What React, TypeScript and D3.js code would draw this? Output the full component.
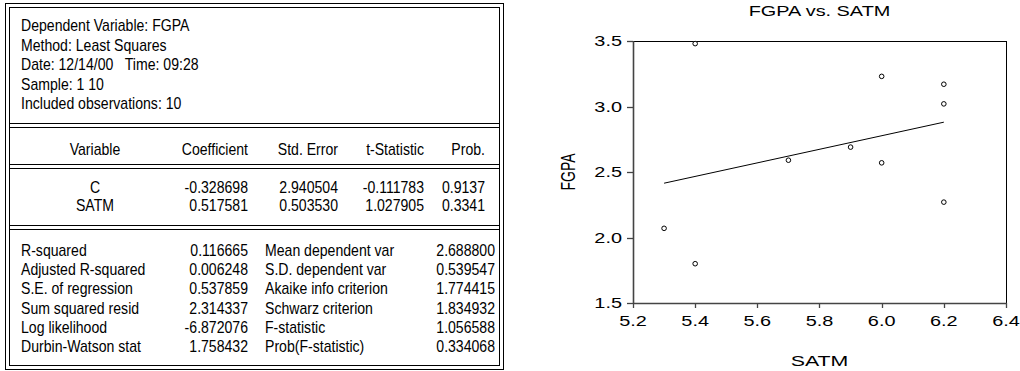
import React, { useEffect, useRef } from 'react';
import * as d3 from 'd3';

// Regression output
const headerLines = [
  'Dependent Variable: FGPA',
  'Method: Least Squares',
  'Date: 12/14/00   Time: 09:28',
  'Sample: 1 10',
  'Included observations: 10',
];
const columnHeaders = ['Variable', 'Coefficient', 'Std. Error', 't-Statistic', 'Prob.'];
const variables = ['C', 'SATM'];
const coefficients = [-0.328698, 0.517581];
const stdErrors = [2.940504, 0.50353];
const tStatistics = [-0.111783, 1.027905];
const probabilities = [0.9137, 0.3341];
const leftStatLabels = [
  'R-squared',
  'Adjusted R-squared',
  'S.E. of regression',
  'Sum squared resid',
  'Log likelihood',
  'Durbin-Watson stat',
];
const leftStatValues = [0.116665, 0.006248, 0.537859, 2.314337, -6.872076, 1.758432];
const rightStatLabels = [
  'Mean dependent var',
  'S.D. dependent var',
  'Akaike info criterion',
  'Schwarz criterion',
  'F-statistic',
  'Prob(F-statistic)',
];
const rightStatValues = [2.6888, 0.539547, 1.774415, 1.834932, 1.056588, 0.334068];

// Scatter data
const satm = [5.3, 5.4, 5.4, 5.7, 5.9, 6.0, 6.0, 6.2, 6.2, 6.2];
const fgpa = [2.07, 3.48, 1.8, 2.59, 2.69, 3.23, 2.57, 3.17, 3.02, 2.27];
const xTicks = [5.2, 5.4, 5.6, 5.8, 6.0, 6.2, 6.4];
const yTicks = [1.5, 2.0, 2.5, 3.0, 3.5];

const FONT = '"Liberation Sans", Arial, Helvetica, sans-serif';

const App = () => {
  const svgRef = useRef<SVGSVGElement>(null);

  useEffect(() => {
    const width = 1020;
    const height = 371;
    const svg = d3.select(svgRef.current).attr('width', width).attr('height', height);
    svg.selectAll('*').remove();

    const txt = (parent: any, x: number, y: number, s: string, anchor: string, size: number, sx: number) =>
      parent
        .append('text')
        .attr('transform', `translate(${x},${y}) scale(${sx},1)`)
        .attr('text-anchor', anchor)
        .attr('font-size', size)
        .attr('font-family', FONT)
        .attr('fill', '#000')
        .style('white-space', 'pre')
        .text(s);

    // ---------- table ----------
    const t = svg.append('g');
    const tSize = 16;
    const tSx = 0.88;
    const box = { l: 5, r: 503, t: 3, b: 369 };
    const gap = 4;
    const line = (x1: number, y1: number, x2: number, y2: number) =>
      t.append('line').attr('x1', x1).attr('y1', y1).attr('x2', x2).attr('y2', y2)
        .attr('stroke', '#000').attr('stroke-width', 1).attr('shape-rendering', 'crispEdges');

    t.append('rect').attr('x', box.l + 0.5).attr('y', box.t + 0.5)
      .attr('width', box.r - box.l).attr('height', box.b - box.t)
      .attr('fill', 'none').attr('stroke', '#000');
    t.append('rect').attr('x', box.l + gap + 0.5).attr('y', box.t + gap + 0.5)
      .attr('width', box.r - box.l - 2 * gap).attr('height', box.b - box.t - 2 * gap)
      .attr('fill', 'none').attr('stroke', '#000');
    [123, 164, 225].forEach((y) => {
      line(box.l + gap, y + 0.5, box.r - gap, y + 0.5);
      line(box.l + gap, y + gap + 0.5, box.r - gap, y + gap + 0.5);
    });

    headerLines.forEach((s, i) => txt(t, 21, 31 + i * 19.5, s, 'start', tSize, tSx));

    const colRight = [0, 248, 338, 424, 485];
    const varCenter = 95;
    columnHeaders.forEach((s, i) => {
      if (i === 0) txt(t, varCenter, 155, s, 'middle', tSize, tSx);
      else txt(t, colRight[i], 155, s, 'end', tSize, tSx);
    });
    variables.forEach((v, i) => {
      const y = 193 + i * 17.5;
      txt(t, varCenter, y, v, 'middle', tSize, tSx);
      txt(t, colRight[1], y, coefficients[i].toFixed(6), 'end', tSize, tSx);
      txt(t, colRight[2], y, stdErrors[i].toFixed(6), 'end', tSize, tSx);
      txt(t, colRight[3], y, tStatistics[i].toFixed(6), 'end', tSize, tSx);
      txt(t, colRight[4], y, probabilities[i].toFixed(4), 'end', tSize, tSx);
    });
    leftStatLabels.forEach((s, i) => {
      const y = 255.7 + i * 19.3;
      txt(t, 21, y, s, 'start', tSize, tSx);
      txt(t, 248, y, leftStatValues[i].toFixed(6), 'end', tSize, tSx);
      txt(t, 265, y, rightStatLabels[i], 'start', tSize, tSx);
      txt(t, 495, y, rightStatValues[i].toFixed(6), 'end', tSize, tSx);
    });

    // ---------- scatter ----------
    const plot = { l: 633, r: 1006, t: 41, b: 303 };
    const cSize = 14;
    const cSx = 1.42;
    const x = d3.scaleLinear().domain([5.2, 6.4]).range([plot.l, plot.r]);
    const y = d3.scaleLinear().domain([1.5, 3.5]).range([plot.b, plot.t]);
    const g = svg.append('g');

    g.append('rect').attr('x', plot.l + 0.5).attr('y', plot.t + 0.5)
      .attr('width', plot.r - plot.l).attr('height', plot.b - plot.t)
      .attr('fill', 'none').attr('stroke', '#000').attr('stroke-width', 1);
    g.append('line').attr('x1', plot.l + 0.5).attr('x2', plot.l + 0.5).attr('y1', plot.t).attr('y2', plot.b + 1)
      .attr('stroke', '#444').attr('stroke-width', 1.6);
    g.append('line').attr('x1', plot.l).attr('x2', plot.r + 1).attr('y1', plot.b + 0.5).attr('y2', plot.b + 0.5)
      .attr('stroke', '#444').attr('stroke-width', 1.6);

    xTicks.forEach((v) => {
      const px = Math.round(x(v)) + 0.5;
      g.append('line').attr('x1', px).attr('x2', px).attr('y1', plot.b).attr('y2', plot.b + 5)
        .attr('stroke', '#444').attr('stroke-width', 1.3);
      txt(g, x(v), 326, v.toFixed(1), 'middle', cSize, cSx);
    });
    yTicks.forEach((v) => {
      const py = Math.round(y(v)) + 0.5;
      g.append('line').attr('x1', plot.l - 6).attr('x2', plot.l).attr('y1', py).attr('y2', py)
        .attr('stroke', '#444').attr('stroke-width', 1.3);
      txt(g, 622, y(v) + 5, v.toFixed(1), 'end', cSize, cSx);
    });

    // fitted line over observed SATM range
    const [xMin, xMax] = d3.extent(satm) as [number, number];
    const fit = (v: number) => coefficients[0] + coefficients[1] * v;
    g.append('path')
      .datum([xMin, xMax])
      .attr('d', d3.line<number>().x((d) => x(d)).y((d) => y(fit(d))))
      .attr('fill', 'none')
      .attr('stroke', '#000')
      .attr('stroke-width', 1);

    g.selectAll('circle.pt')
      .data(satm.map((s, i) => ({ s, f: fgpa[i] })))
      .join('circle')
      .attr('class', 'pt')
      .attr('cx', (d) => x(d.s))
      .attr('cy', (d) => y(d.f))
      .attr('r', 2.3)
      .attr('fill', '#fff')
      .attr('stroke', '#000')
      .attr('stroke-width', 1);

    txt(g, (plot.l + plot.r) / 2, 16, 'FGPA vs. SATM', 'middle', cSize, cSx);
    txt(g, (plot.l + plot.r) / 2, 366, 'SATM', 'middle', cSize + 1, cSx);
    g.append('text')
      .attr('transform', `translate(575,${(plot.t + plot.b) / 2}) rotate(-90) scale(1,${cSx})`)
      .attr('text-anchor', 'middle')
      .attr('font-size', cSize)
      .attr('font-family', FONT)
      .text('FGPA');
  }, []);

  return (
    <svg
      ref={svgRef}
      style={{ position: 'absolute', left: 0, top: 0, display: 'block', background: '#fff' }}
    />
  );
};

export default App;
